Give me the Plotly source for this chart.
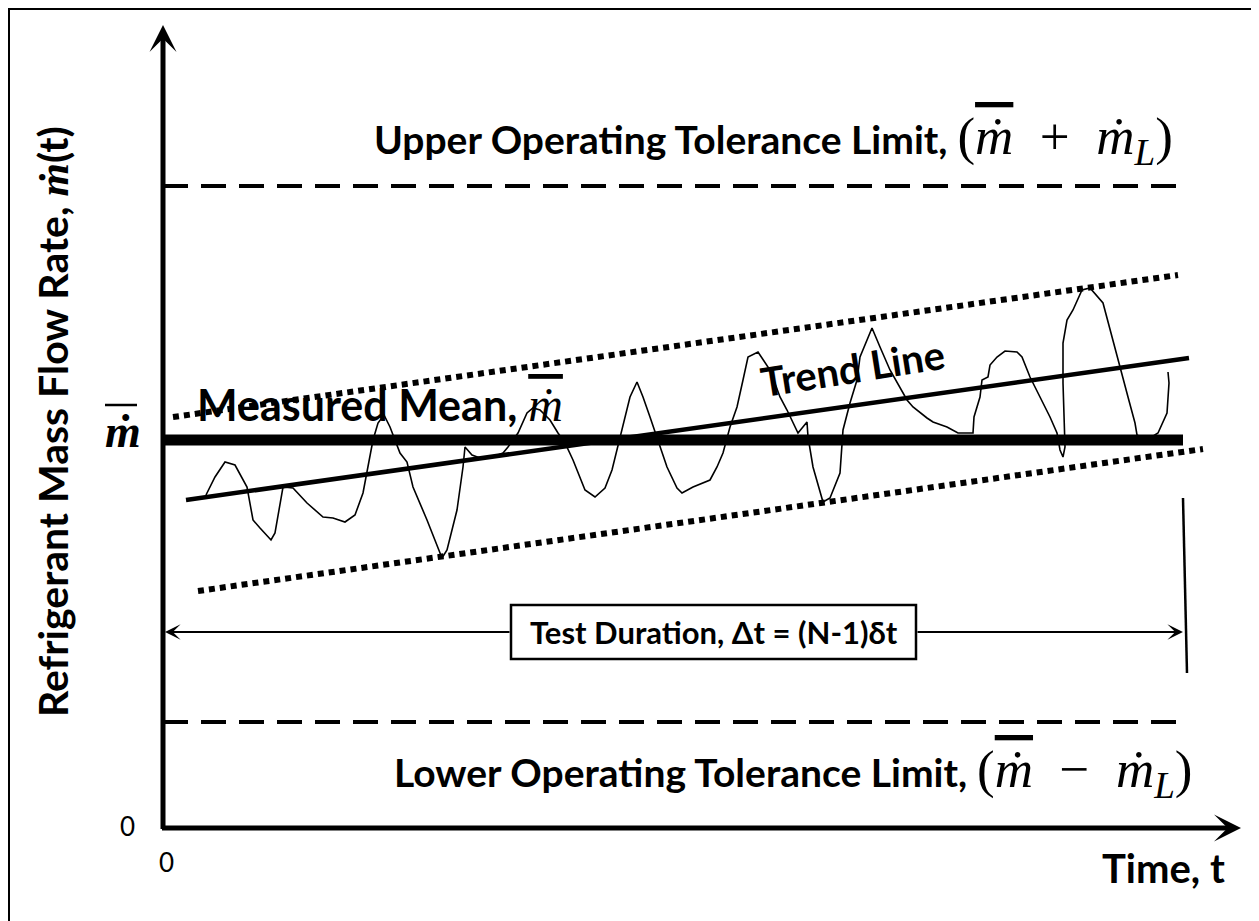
import plotly.graph_objects as go

# ---------------- data (time units, flow-rate units) ----------------
t_signal = [
    4.3, 5.2, 6.2, 7.2, 8.4, 9.0, 9.7, 10.8, 11.2, 11.9,
    12.0, 13.0, 14.4, 16.0, 17.0, 18.2, 19.2, 20.0, 20.5, 21.0,
    21.5, 22.1, 22.7, 23.7, 24.4, 25.0, 26.4, 27.9, 28.4, 29.4,
    30.0, 30.2, 30.9, 31.7, 33.0, 34.0, 34.5, 35.5, 36.4, 37.0,
    37.7, 38.7, 39.5, 40.2, 41.0, 42.2, 43.2, 44.2, 44.9, 45.7,
    46.5, 46.7, 47.4, 48.0, 48.7, 49.4, 50.4, 51.4, 51.9, 53.0,
    54.7, 55.4, 56.0, 56.7, 57.4, 58.0, 58.5, 59.5, 60.7, 61.7,
    62.4, 63.5, 64.4, 64.5, 65.0, 66.0, 66.7, 67.7, 68.0, 68.7,
    69.4, 69.7, 70.9, 71.7, 72.7, 74.4, 75.0, 76.4, 77.0, 78.4,
    79.5, 81.0, 81.1, 81.7, 81.9, 82.5, 82.7, 83.4, 84.2, 85.4,
    85.9, 86.7, 87.7, 88.7, 89.4, 89.7, 90.0, 90.2, 90.0, 90.0,
    90.4, 91.0, 91.9, 92.7, 94.0, 94.7, 95.5, 96.5, 97.2, 97.4,
    98.4, 99.5, 100.4, 100.6, 100.5,
]
m_signal = [
    33.3, 35.1, 36.6, 36.3, 34.1, 30.8, 30.0, 28.8, 29.5, 33.5,
    34.1, 34.0, 32.5, 31.1, 31.0, 30.6, 31.3, 33.5, 36.1, 38.8,
    40.5, 41.3, 40.1, 37.5, 36.6, 34.1, 30.8, 27.0, 27.8, 31.8,
    36.1, 38.1, 37.3, 37.0, 37.1, 37.5, 38.1, 39.5, 41.5, 42.0,
    41.8, 40.8, 39.5, 38.5, 36.8, 33.8, 33.1, 34.0, 35.8, 39.1,
    42.1, 43.1, 44.6, 43.1, 41.1, 39.1, 36.1, 34.0, 33.5, 34.1,
    34.8, 36.1, 37.5, 40.1, 42.1, 44.8, 47.1, 47.6, 45.8, 43.1,
    41.8, 39.5, 40.6, 39.1, 36.1, 32.6, 33.0, 35.5, 39.8, 42.5,
    44.8, 47.1, 50.0, 48.1, 45.8, 42.8, 42.1, 41.0, 40.6, 40.1,
    39.5, 39.5, 41.1, 43.1, 44.8, 45.1, 46.3, 47.1, 47.7, 47.6,
    47.1, 45.1, 43.1, 41.1, 39.5, 37.8, 37.1, 38.1, 44.5, 48.5,
    50.8, 51.8, 53.8, 54.0, 52.5, 49.8, 46.8, 43.1, 40.5, 39.3,
    38.8, 39.5, 41.5, 44.5, 45.6,
]

mean_flow = 38.8
upper_limit = 64.2
lower_limit = 10.6
line_t = [0.0, 102.0]            # span of mean / limit lines
trend_t = [2.3, 102.6]
trend_m = [32.8, 47.0]
band_upper_t = [1.0, 101.5]
band_upper_m = [41.1, 55.3]
band_lower_t = [3.5, 104.0]
band_lower_m = [23.7, 37.9]
duration_level = 19.6
duration_t = [0.0, 102.0]
end_marker_t = [102.0, 102.4]
end_marker_m = [33.0, 15.5]
axis_tip_t = 107.8
axis_tip_m = 80.3

y_tick_vals = [0, mean_flow]
x_tick_vals = [0]
x_tick_text = ["0"]

SANS = "Lato"
MATH = "Liberation Serif"
BLACK = "#000000"

MDOT = "\u1e41"   # m with dot above
OVER = '<span style="text-decoration:overline">' + MDOT + '</span>'

def math(s, size):
    return f'<span style="font-family:{MATH};font-size:{size}px">{s}</span>'

y_tick_text = ["0", "<b><i>" + MDOT + "</i></b>"]

fig = go.Figure()

def line(x, y, width, dash="solid"):
    fig.add_trace(go.Scatter(x=x, y=y, mode="lines", hoverinfo="skip",
                             line=dict(color=BLACK, width=width, dash=dash)))

# tolerance band (dotted)
line(band_upper_t, band_upper_m, 6, "6px,5px")
line(band_lower_t, band_lower_m, 6, "6px,5px")
# operating tolerance limits (dashed)
line(line_t, [upper_limit] * 2, 4, "25px,13px")
line(line_t, [lower_limit] * 2, 4, "25px,13px")
# measured signal
line(t_signal, m_signal, 1.6)
# measured mean
line(line_t, [mean_flow] * 2, 11)
# trend line
line(trend_t, trend_m, 4.5)
# end-of-test marker
line(end_marker_t, end_marker_m, 2.5)

annotations = []

def arrow(x, y, ax, ay, width, head, size):
    annotations.append(dict(x=x, y=y, ax=ax, ay=ay, xref="x", yref="y",
                            axref="x", ayref="y", text="", showarrow=True,
                            arrowhead=head, arrowsize=size, arrowwidth=width,
                            arrowcolor=BLACK, standoff=0, startstandoff=0))

def label(x, y, text, size, xanchor="center", yanchor="middle", angle=0,
          family=SANS):
    annotations.append(dict(x=x, y=y, xref="x", yref="y", text=text,
                            showarrow=False, xanchor=xanchor, yanchor=yanchor,
                            textangle=angle,
                            font=dict(family=family, size=size, color=BLACK)))

# axes with arrow heads
arrow(0, axis_tip_m, 0, -0.25, 5, 3, 0.9)
arrow(axis_tip_t, 0, -0.25, 0, 5, 3, 0.9)

# test duration arrows (from box edges outward)
box_x = [34.8, 75.3]
box_y = [16.9, 22.3]
arrow(duration_t[0] + 0.2, duration_level, box_x[0], duration_level, 2, 3, 1.3)
arrow(duration_t[1], duration_level, box_x[1], duration_level, 2, 3, 1.3)

# ticks
label(-3.6, y_tick_vals[0] + 0.2, y_tick_text[0], 26)
label(-4.0, y_tick_vals[1] + 0.9, y_tick_text[1], 46, family=MATH)
label(x_tick_vals[0] + 0.3, -3.4, x_tick_text[0], 26)

label(-11.1, 40.6,
      "<b>Refrigerant Mass Flow Rate, " + math("<i>" + MDOT + "</i>", 43) + "(t)</b>",
      41, angle=-90)
label(106.4, -4.0, "<b>Time, t</b>", 40, xanchor="right")
label(20.9, 68.8,
      "<b>Upper Operating Tolerance Limit,</b> "
      + math("(<i>" + OVER + "</i>\u2002+\u2002<i>" + MDOT + "</i><sub><i>L</i></sub>)", 53),
      39, xanchor="left")
label(22.9, 5.5,
      "<b>Lower Operating Tolerance Limit,</b> "
      + math("(<i>" + OVER + "</i>\u2002\u2212\u2002<i>" + MDOT + "</i><sub><i>L</i></sub>)", 53),
      39, xanchor="left")
label(3.2, 42.4, "<b>Measured Mean,</b> " + math("<i>" + OVER + "</i>", 48),
      43, xanchor="left")
label(69.0, 46.0, "<b>Trend Line</b>", 40, angle=-9)
label(sum(box_x) / 2, duration_level,
      "<b>Test Duration, \u0394t = (N-1)\u03b4t</b>", 31)

shapes = [
    dict(type="rect", xref="x", yref="y", x0=box_x[0], x1=box_x[1],
         y0=box_y[0], y1=box_y[1], line=dict(color=BLACK, width=2.5),
         fillcolor="white", layer="above"),
    dict(type="rect", xref="x", yref="y", x0=-15.4, x1=109.3, y0=-9.8, y1=81.9,
         line=dict(color=BLACK, width=2), fillcolor="rgba(0,0,0,0)", layer="above"),
    # overbar of the mean-flow tick symbol
    dict(type="line", xref="x", yref="y", x0=-5.8, x1=-2.6, y0=42.3, y1=42.3,
         line=dict(color=BLACK, width=2.5), layer="above"),
]

# the page body has an 8 px margin, so the figure is sized and ranged to
# land on the same pixels as the reference (10 px per data unit)
fig.update_layout(
    width=1251, height=913,
    margin=dict(l=0, r=0, t=0, b=0, pad=0),
    paper_bgcolor="white", plot_bgcolor="white",
    showlegend=False,
    xaxis=dict(range=[-15.5, 109.6], visible=False, fixedrange=True),
    yaxis=dict(range=[-9.3, 82.0], visible=False, fixedrange=True),
    annotations=annotations,
    shapes=shapes,
)

fig.write_html("out.html")
